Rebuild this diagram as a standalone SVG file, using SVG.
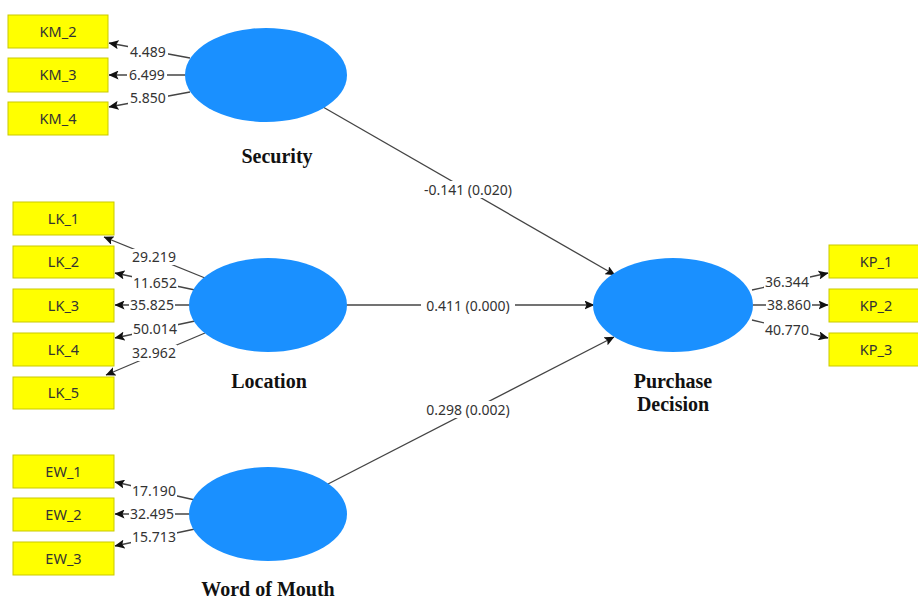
<svg xmlns="http://www.w3.org/2000/svg" width="918" height="599" viewBox="0 0 918 599">
<defs>
<marker id="ar" markerUnits="userSpaceOnUse" markerWidth="10" markerHeight="9" refX="9.5" refY="4.5" orient="auto">
<path d="M0,0 L10,4.5 L0,9 L2,4.5 z" fill="#111"/>
</marker>
<style>
.ind rect{fill:#ffff00;stroke:#c9c900;stroke-width:1}
.ind text{font-family:"Noto Sans","Open Sans",sans-serif;font-size:14.5px;fill:#333;text-anchor:middle}
.lv ellipse{fill:#1a90ff}
.lv text{font-family:"Liberation Serif","Times New Roman",serif;font-size:20px;font-weight:bold;fill:#111;text-anchor:middle}
.c line{stroke:#444;stroke-width:1.3;marker-end:url(#ar)}
.c rect{fill:#fff}
.c text{font-family:"Noto Sans","Open Sans",sans-serif;font-size:14px;fill:#333;text-anchor:middle}
</style>
</defs>
<rect width="918" height="599" fill="#fff"/>

<g id="connectors" class="c">
<line x1="190" y1="58" x2="109" y2="43"/>
<line x1="185" y1="75" x2="109" y2="75"/>
<line x1="190" y1="92" x2="109" y2="107"/>
<line x1="205" y1="278" x2="104" y2="237"/>
<line x1="195" y1="290" x2="115" y2="273"/>
<line x1="190" y1="305" x2="115" y2="305"/>
<line x1="195" y1="321" x2="115" y2="338"/>
<line x1="205" y1="333" x2="106" y2="375"/>
<line x1="195" y1="500" x2="115" y2="482"/>
<line x1="190" y1="514" x2="115" y2="514"/>
<line x1="195" y1="529" x2="115" y2="546"/>
<line x1="752" y1="290" x2="828" y2="273"/>
<line x1="753" y1="305" x2="828" y2="305"/>
<line x1="752" y1="320" x2="828" y2="338"/>
<line x1="323" y1="107" x2="615" y2="275"/>
<line x1="346" y1="305" x2="594" y2="305"/>
<line x1="328" y1="484" x2="614" y2="337"/>
<rect x="128" y="44" width="40" height="16"/>
<rect x="127" y="67" width="40" height="16"/>
<rect x="128" y="90" width="40" height="16"/>
<rect x="131" y="249" width="46" height="16"/>
<rect x="132" y="275" width="46" height="16"/>
<rect x="129" y="297" width="46" height="16"/>
<rect x="132" y="321" width="46" height="16"/>
<rect x="131" y="345" width="46" height="16"/>
<rect x="131" y="483" width="46" height="16"/>
<rect x="129" y="506" width="46" height="16"/>
<rect x="131" y="529" width="46" height="16"/>
<rect x="764" y="274" width="46" height="16"/>
<rect x="766" y="297" width="46" height="16"/>
<rect x="764" y="322" width="46" height="16"/>
<rect x="418" y="181" width="100" height="17"/>
<rect x="421" y="297" width="94" height="17"/>
<rect x="421" y="401" width="94" height="17"/>
<text x="148" y="57">4.489</text>
<text x="147" y="80">6.499</text>
<text x="148" y="103">5.850</text>
<text x="154" y="262">29.219</text>
<text x="155" y="288">11.652</text>
<text x="152" y="310">35.825</text>
<text x="155" y="334">50.014</text>
<text x="154" y="358">32.962</text>
<text x="154" y="496">17.190</text>
<text x="152" y="519">32.495</text>
<text x="154" y="542">15.713</text>
<text x="787" y="287">36.344</text>
<text x="789" y="310">38.860</text>
<text x="787" y="335">40.770</text>
<text x="468" y="195">-0.141 (0.020)</text>
<text x="468" y="311">0.411 (0.000)</text>
<text x="468" y="415">0.298 (0.002)</text>
</g>

<g id="KM_2" class="ind"><rect x="8" y="15" width="100" height="33"/><text x="58" y="36.5">KM_2</text></g>
<g id="KM_3" class="ind"><rect x="8" y="58" width="100" height="34"/><text x="58" y="80">KM_3</text></g>
<g id="KM_4" class="ind"><rect x="8" y="102" width="100" height="33"/><text x="58" y="123.5">KM_4</text></g>

<g id="LK_1" class="ind"><rect x="13" y="202" width="101" height="33"/><text x="63.5" y="223.5">LK_1</text></g>
<g id="LK_2" class="ind"><rect x="13" y="246" width="101" height="32"/><text x="63.5" y="267">LK_2</text></g>
<g id="LK_3" class="ind"><rect x="13" y="289" width="101" height="33"/><text x="63.5" y="310.5">LK_3</text></g>
<g id="LK_4" class="ind"><rect x="13" y="333" width="101" height="33"/><text x="63.5" y="354.5">LK_4</text></g>
<g id="LK_5" class="ind"><rect x="13" y="377" width="101" height="32"/><text x="63.5" y="398">LK_5</text></g>

<g id="EW_1" class="ind"><rect x="13" y="455" width="101" height="33"/><text x="63.5" y="476.5">EW_1</text></g>
<g id="EW_2" class="ind"><rect x="13" y="498" width="101" height="33"/><text x="63.5" y="519.5">EW_2</text></g>
<g id="EW_3" class="ind"><rect x="13" y="542" width="101" height="33"/><text x="63.5" y="563.5">EW_3</text></g>

<g id="KP_1" class="ind"><rect x="829" y="245" width="100" height="33"/><text x="876" y="266.5">KP_1</text></g>
<g id="KP_2" class="ind"><rect x="829" y="289" width="100" height="33"/><text x="876" y="310.5">KP_2</text></g>
<g id="KP_3" class="ind"><rect x="829" y="333" width="100" height="33"/><text x="876" y="354.5">KP_3</text></g>

<g id="Security" class="lv"><ellipse cx="266" cy="75" rx="81" ry="47"/><text x="277" y="163">Security</text></g>
<g id="Location" class="lv"><ellipse cx="268" cy="305" rx="79" ry="47"/><text x="269" y="388">Location</text></g>
<g id="WordOfMouth" class="lv"><ellipse cx="268" cy="514" rx="79" ry="47"/><text x="268" y="596">Word of Mouth</text></g>
<g id="PurchaseDecision" class="lv"><ellipse cx="673" cy="305" rx="80" ry="47"/><text x="673" y="388">Purchase</text><text x="673" y="411">Decision</text></g>
</svg>
